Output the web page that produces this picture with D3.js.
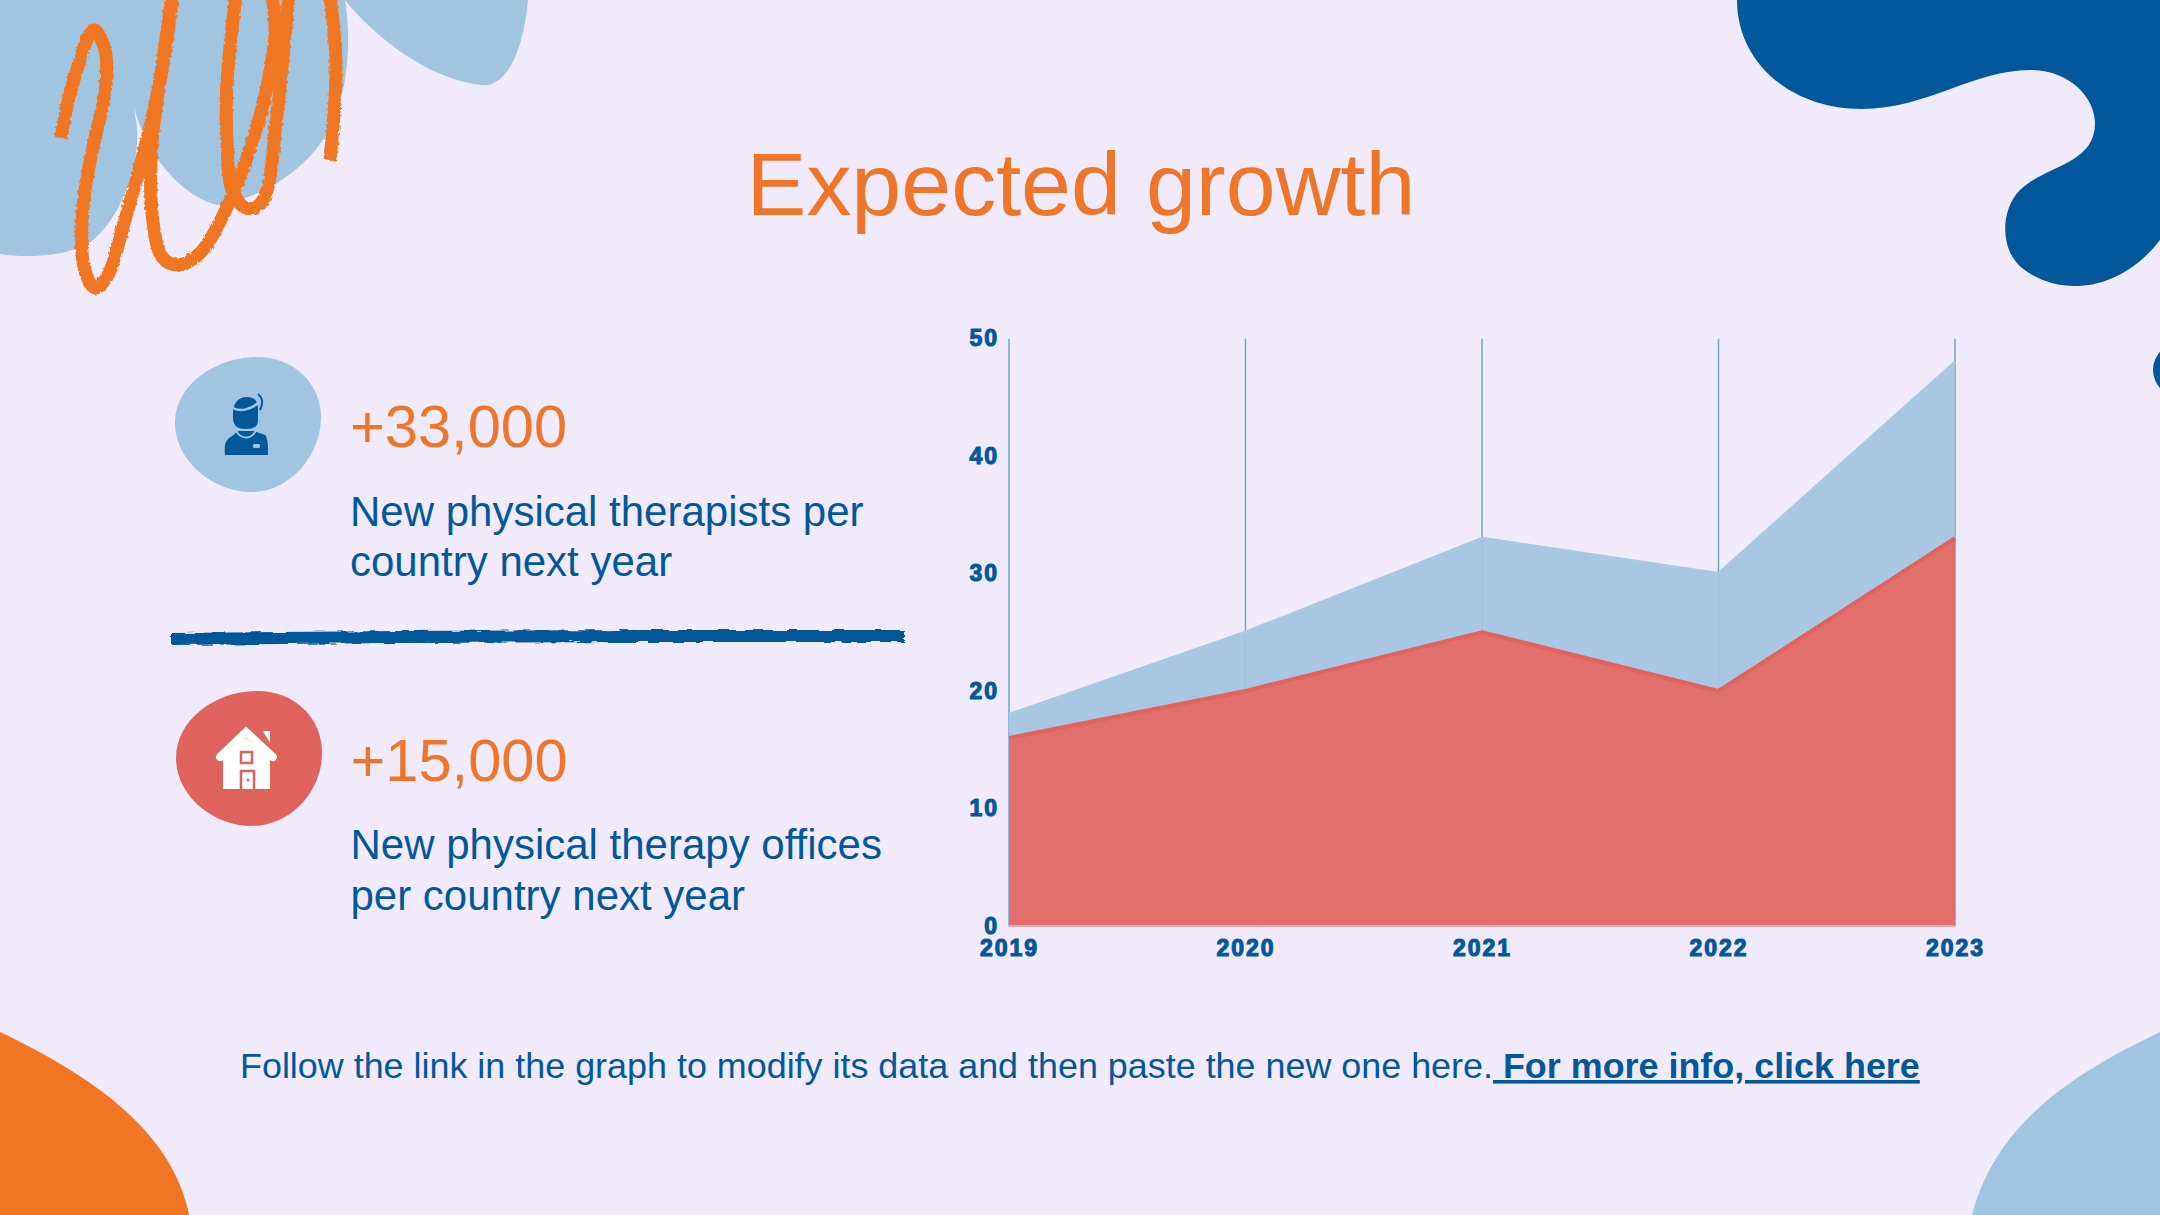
<!DOCTYPE html>
<html>
<head>
<meta charset="utf-8">
<script src="https://cdn.jsdelivr.net/npm/d3@7"></script>
<style>
	body { margin: 0; background: #f1eafa; }
	text { font-family: "Liberation Sans", Arial, sans-serif; }
</style>
</head>
<body>
<div id="slide"></div>
<script>
// chart values
var years = ["2019", "2020", "2021", "2022", "2023"];
var backSeries = [18, 25, 33, 30, 48];
var frontSeries = [16, 20, 25, 20, 33];
var yTicks = [0, 10, 20, 30, 40, 50];

var titleText = "Expected growth";
var statValues = ["+33,000", "+15,000"];
var statLabels = [
	["New physical therapists per", "country next year"],
	["New physical therapy offices", "per country next year"]
];
var footerText = "Follow the link in the graph to modify its data and then paste the new one here.";
var footerLink = " For more info, click here";

var ORANGE = "#f07624", DARKBLUE = "#03589b", LIGHTBLUE = "#a1c5e0", RED = "#e0625c";

var svg = d3.select("#slide").append("svg").attr("width", 2160).attr("height", 1215).style("display", "block");
svg.append("rect").attr("width", 2160).attr("height", 1215).attr("fill", "#f1eafa");

var defs = svg.append("defs");
function roughFilter(id, freq, scale) {
	var f = defs.append("filter").attr("id", id).attr("filterUnits", "userSpaceOnUse")
		.attr("x", 0).attr("y", 0).attr("width", 2160).attr("height", 1215);
	f.append("feTurbulence").attr("type", "fractalNoise").attr("baseFrequency", freq).attr("numOctaves", 2).attr("seed", 4).attr("result", "n");
	f.append("feDisplacementMap").attr("in", "SourceGraphic").attr("in2", "n").attr("scale", scale);
}
roughFilter("rough", 0.3, 3.5);
roughFilter("brush", "0.06 0.5", 5);

//####################
// DECORATION
//####################
var deco = svg.append("g");
deco.append("path").attr("fill", LIGHTBLUE).attr("d", "M0,0 L200,0 L134,108 L137,127 C140,175 115,225 89,243 C70,255 30,259 0,254 Z");
deco.append("path").attr("fill", LIGHTBLUE).attr("d", "M120,0 L345,0 C353,50 345,100 329,130 C310,165 268,197 218,205 C190,200 150,165 134,108 Z");
deco.append("path").attr("fill", LIGHTBLUE).attr("d", "M345,0 C375,38 430,80 482,85 C505,87 523,55 528,0 Z");
deco.append("path").attr("fill", DARKBLUE).attr("d", "M1737,0 C1737,62 1790,109 1862,109 C1925,109 1975,70 2030,70 C2070,70 2095,98 2095,123 C2095,165 2045,165 2020,190 C2000,210 2000,250 2022,268 C2060,298 2120,292 2160,240 L2160,0 Z");
deco.append("circle").attr("cx", 2180).attr("cy", 370).attr("r", 27).attr("fill", DARKBLUE);
deco.append("path").attr("fill", ORANGE).attr("d", "M0,1032 C90,1075 172,1130 189,1215 L0,1215 Z");
deco.append("path").attr("fill", LIGHTBLUE).attr("d", "M2160,1032 C2070,1075 1995,1125 1972,1215 L2160,1215 Z");

var scribble = svg.append("g").attr("filter", "url(#rough)").attr("fill", "none").attr("stroke", ORANGE).attr("stroke-linecap", "butt").attr("stroke-linejoin", "round");
var scribbleLine = d3.line().curve(d3.curveCatmullRom);
var strokes = [
	[[61, 138], [71, 90], [94, 30], [105, 50], [105, 93], [93, 147], [83, 207], [84, 267], [95, 288], [107, 277], [125, 220], [146, 143], [156, 100], [168, 33], [172, -5]],
	[[172, -5], [162, 67], [152, 143], [152, 213], [162, 257], [177, 265], [200, 253], [229, 203], [246, 160], [264, 100], [275, 33], [272, -5]],
	[[236, -5], [227, 83], [227, 140], [232, 190], [246, 208], [259, 205], [268, 187], [275, 133], [282, 67], [289, -5]],
	[[330, -5], [336, 67], [330, 160]]
];
strokes.forEach(function(s) {
	scribble.append("path").attr("d", scribbleLine(s)).attr("stroke-width", 13);
});

svg.append("path").attr("filter", "url(#brush)").attr("fill", "none").attr("stroke", DARKBLUE).attr("stroke-width", 12).attr("d", "M171,639 L400,637 L650,636 L904,636");

//####################
// TITLE AND LEFT COLUMN
//####################
svg.append("text").attr("x", 1081).attr("y", 215).attr("text-anchor", "middle").attr("font-size", 89.8).attr("fill", "#ef7628").text(titleText);

deco.append("path").attr("fill", LIGHTBLUE).attr("d", "M257,357 C295,357 321,385 321,417 C321,455 290,492 252,492 C212,492 175,460 175,423 C175,385 215,357 257,357 Z");
deco.append("path").attr("fill", RED).attr("d", "M257,691 C295,691 322,718 322,753 C322,792 290,826 252,826 C212,826 176,795 176,758 C176,720 215,691 257,691 Z");

// nurse icon
var nurse = svg.append("g").attr("fill", DARKBLUE);
nurse.append("path").attr("d", "M233,413 C233,401 240,397 247,397 C254,397 258,401 258,408 L258,420 C258,428 252,429 245,429 C238,429 233,426 233,418 Z");
nurse.append("path").attr("d", "M232,436 L238,431 L254,431 L265,435 C268,438 268,445 268,455 L225,455 C224,445 225,440 232,436 Z");
nurse.append("path").attr("d", "M233,408 C240,412 250,410 258,403").attr("fill", "none").attr("stroke", LIGHTBLUE).attr("stroke-width", 2.5);
nurse.append("path").attr("d", "M258,394 C263,398 263,404 260,410").attr("fill", "none").attr("stroke", DARKBLUE).attr("stroke-width", 2);
nurse.append("path").attr("d", "M236,430 C240,440 252,440 256,430").attr("fill", "none").attr("stroke", LIGHTBLUE).attr("stroke-width", 2);
nurse.append("rect").attr("x", 253).attr("y", 444).attr("width", 7).attr("height", 4).attr("rx", 1.5).attr("fill", LIGHTBLUE);

// house icon
var house = svg.append("g").attr("fill", "#fff");
house.append("path").attr("d", "M223,789 L223,757 L246,738 L270,757 L270,789 Z");
house.append("path").attr("d", "M220,757 L246,732 L273,757").attr("fill", "none").attr("stroke", "#fff").attr("stroke-width", 8).attr("stroke-linecap", "round");
house.append("path").attr("d", "M263,731 L270,731 L270,743 Z");
house.append("rect").attr("x", 241).attr("y", 752).attr("width", 11).attr("height", 11).attr("fill", "none").attr("stroke", RED).attr("stroke-width", 2.5);
house.append("path").attr("d", "M241,789 L241,771 L254,771 L254,789").attr("fill", "none").attr("stroke", RED).attr("stroke-width", 2.5);
house.append("circle").attr("cx", 248).attr("cy", 780).attr("r", 1.5).attr("fill", RED);

var statX = [350, 350.5];
var statY = [447, 781];
var labelY = [[526, 576], [859, 910]];
statValues.forEach(function(v, i) {
	svg.append("text").attr("x", statX[i]).attr("y", statY[i]).attr("font-size", 59.6).attr("fill", "#ef7628").text(v);
	statLabels[i].forEach(function(l, j) {
		svg.append("text").attr("x", statX[i]).attr("y", labelY[i][j]).attr("font-size", 42).attr("fill", DARKBLUE).text(l);
	});
});

//####################
// AREA CHART
//####################
var x = d3.scalePoint().domain(years).range([1009, 1955]);
var y = d3.scaleLinear().domain([0, 50]).range([926, 338.5]);
var chart = svg.append("g");

chart.selectAll(".grid").data(years).enter().append("line").attr("class", "grid")
	.attr("x1", function(d) { return x(d); }).attr("x2", function(d) { return x(d); })
	.attr("y1", y(50)).attr("y2", y(0))
	.attr("stroke", "#6ea6d4").attr("stroke-width", 1.5);

function drawArea(values, fill, line, opacity, width) {
	var area = d3.area().x(function(d, i) { return x(years[i]); }).y0(y(0)).y1(function(d) { return y(d); });
	var top = d3.line().x(function(d, i) { return x(years[i]); }).y(function(d) { return y(d); });
	chart.append("path").datum(values).attr("d", area).attr("fill", fill).attr("fill-opacity", opacity);
	chart.append("path").datum(values).attr("d", top).attr("fill", "none").attr("stroke", line).attr("stroke-width", width);
}
drawArea(backSeries, "#a1c5e0", "#a8c9e2", 0.94, 3);
drawArea(frontSeries, "#e46b65", "#e2635d", 0.95, 4);

chart.append("line").attr("x1", x(years[0])).attr("x2", x(years[4])).attr("y1", y(0)).attr("y2", y(0)).attr("stroke", "#e8a9b0").attr("stroke-width", 2);

var yAxis = d3.axisLeft(y).tickValues(yTicks).tickSize(0).tickPadding(10);
var xAxis = d3.axisBottom(x).tickSize(0).tickPadding(14);
var yG = chart.append("g").attr("transform", "translate(" + x(years[0]) + ",0)").call(yAxis);
var xG = chart.append("g").attr("transform", "translate(0," + y(0) + ")").call(xAxis);
[yG, xG].forEach(function(g) {
	g.select(".domain").remove();
	g.selectAll("text")
		.attr("font-family", "Liberation Sans").attr("font-weight", "bold").attr("font-size", 23)
		.attr("letter-spacing", 2).attr("fill", DARKBLUE).attr("stroke", DARKBLUE).attr("stroke-width", 1.1);
});

//####################
// FOOTER
//####################
var footer = svg.append("text").attr("x", 240).attr("y", 1078).attr("font-size", 35.9).attr("fill", DARKBLUE).style("white-space", "pre");
footer.append("tspan").text(footerText);
footer.append("tspan").attr("font-weight", "bold").attr("text-decoration", "underline").text(footerLink);
</script>
</body>
</html>
